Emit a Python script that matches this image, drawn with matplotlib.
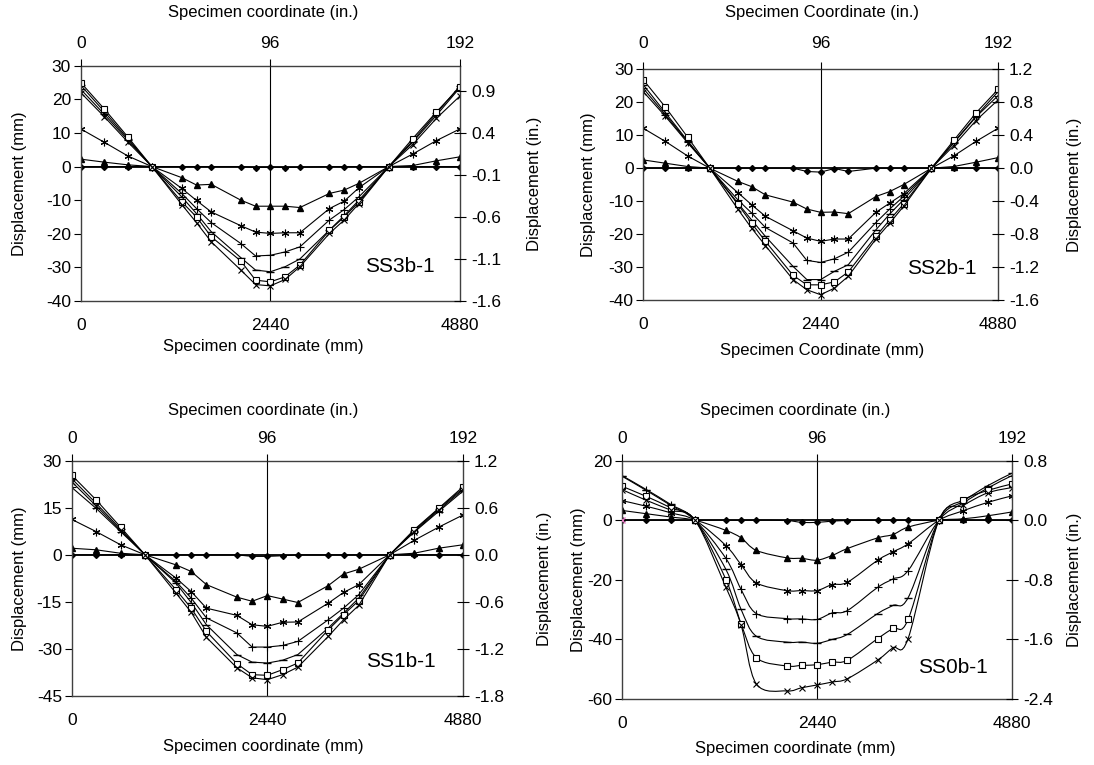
import numpy as np
import matplotlib
matplotlib.use('Agg')
import matplotlib.pyplot as plt
from matplotlib.path import Path
from matplotlib.patches import PathPatch

plt.rcParams['font.family'] = ['Liberation Sans', 'DejaVu Sans']
plt.rcParams['axes.unicode_minus'] = False

# ---------------- data ----------------
x_mm = [0, 305, 610, 915, 1300, 1490, 1680, 2060, 2250, 2440, 2630, 2820,
        3200, 3390, 3580, 3965, 4270, 4575, 4880]

# SS3b-1
ss3_diamond = [0, 0, 0, 0, 0, 0, 0, 0, -0.3, -0.2, -0.3, -0.2, 0, 0, 0, 0, 0, 0, 0]
ss3_triangle = [2.2, 1.3, 0.5, 0, -3.3, -5.5, -5.3, -10, -11.8, -11.8, -11.8, -12.2, -8, -7, -5, 0, 0.3, 1.7, 2.9]
ss3_star = [11.2, 7.2, 3.1, 0, -6.5, -10.1, -13.5, -17.6, -19.5, -19.9, -19.7, -19.7, -12.5, -10.3, -6.3, 0, 3.7, 7.7, 11.2]
ss3_plus = [23.0, 15.5, 7.8, 0, -8, -12.5, -16.7, -22.9, -26.6, -26.4, -25.4, -23.9, -15.9, -12.8, -9, 0, 7.2, 15.2, 23.5]
ss3_dash = [24.2, 16.3, 8.2, 0, -9, -14, -19.4, -27.1, -30.8, -31.3, -29.8, -27.5, -18.9, -14.6, -10, 0, 7.6, 15.8, 24.0]
ss3_square = [25.0, 17.1, 8.7, 0, -10.5, -15, -20.9, -28.1, -33.8, -34.3, -32.8, -29.3, -19, -15, -10.5, 0, 8.3, 16.2, 23.7]
ss3_x = [22.0, 14.8, 7.2, 0, -11.3, -16.7, -22.4, -30.8, -35.1, -35.5, -33.6, -29.8, -19.9, -15.9, -11, 0, 6.5, 14.3, 21.0]

# SS2b-1
ss2_diamond = [0, 0, 0, 0, 0, 0, 0, 0, -1.0, -1.2, -0.1, -1.0, 0, 0, 0, 0, 0, 0, 0]
ss2_triangle = [2.5, 1.5, 0.5, 0, -4, -5.6, -8.1, -10.3, -12.4, -13.4, -13.3, -13.8, -8.6, -7.1, -5, 0, 0.5, 1.8, 3.2]
ss2_star = [12.1, 8.1, 3.7, 0, -7.4, -11.1, -14.6, -19, -21.2, -22.2, -21.5, -21.5, -13.4, -10.6, -7.8, 0, 3.7, 8.1, 12.1]
ss2_plus = [24.2, 16.2, 8.0, 0, -9.6, -13.6, -18, -22.7, -28, -28.6, -27.5, -25.5, -16.5, -12.4, -8.6, 0, 7.6, 15.5, 22.0]
ss2_dash = [25.3, 16.8, 8.3, 0, -10.6, -15.7, -20.7, -29.8, -33.8, -33.8, -31.3, -29.3, -18.7, -13.9, -9.6, 0, 7.8, 15.7, 23.2]
ss2_square = [26.8, 18.5, 9.4, 0, -10.9, -16.7, -22.2, -32.5, -35.4, -35.4, -34.5, -31.5, -20.7, -15.7, -10.9, 0, 8.4, 16.7, 23.9]
ss2_x = [23.2, 15.7, 7.7, 0, -12.4, -18.2, -23.5, -33.8, -36.9, -38.4, -36.4, -32.8, -21.5, -16.7, -11.6, 0, 6.8, 14.4, 20.7]

# SS1b-1
ss1_diamond = [0, 0, 0, 0, 0, 0, 0, 0, -0.5, -0.5, -0.3, 0, 0, 0, 0, 0, 0, 0, 0]
ss1_triangle = [2.1, 1.6, 0.5, 0, -3.2, -5.3, -9.5, -13.5, -14.8, -13, -14.1, -15.2, -9.8, -6.1, -4.6, 0, 0.5, 2.1, 3.2]
ss1_star = [11.3, 7.4, 3.2, 0, -7.4, -11.7, -17, -19.3, -22.3, -22.8, -21.5, -21.4, -15.4, -12, -9.5, 0, 4.6, 8.8, 12.7]
ss1_plus = [21.5, 14.8, 7.4, 0, -8.5, -13.8, -20.1, -24.9, -29.4, -29.4, -28.9, -27.6, -20.7, -17, -12.7, 0, 7.2, 13.8, 20.3]
ss1_dash = [24.3, 16.4, 8.2, 0, -9, -15.2, -22.3, -31.8, -34.2, -34.5, -33.6, -31.8, -23.3, -18.6, -13.8, 0, 7.7, 14.6, 21.2]
ss1_square = [25.4, 17.5, 8.8, 0, -11.1, -17, -24.4, -34.7, -38.2, -38.4, -36.6, -34.5, -23.9, -19.1, -14.6, 0, 8.0, 14.8, 21.7]
ss1_x = [23.3, 15.6, 7.8, 0, -12.2, -18.3, -26.3, -36, -39.2, -39.8, -38.2, -35.8, -26, -20.7, -16.1, 0, 7.4, 14.2, 20.8]

# SS0b-1
ss0_diamond = [0, 0, 0, 0, 0, 0, 0, -0.1, -0.7, -0.7, -0.3, -0.1, 0, 0, 0, 0, 0, 0, 0]
ss0_triangle = [3.3, 2.2, 1.1, 0, -3.4, -5.9, -10.1, -12.6, -12.8, -13.4, -11.8, -9.5, -5.9, -4.8, -2.3, 0, 0.5, 1.5, 2.8]
ss0_star = [6.6, 4.7, 2.5, 0, -8.5, -14.9, -21, -23.6, -23.6, -23.6, -21.6, -20.8, -13.4, -10.6, -7.9, 0, 3.2, 6.0, 8.2]
ss0_plus = [14.8, 10.0, 5.0, 0, -12.8, -23.2, -31.3, -33, -33.1, -33.3, -31.1, -30.3, -22.5, -19.7, -16.9, 0, 5.8, 10.8, 15.0]
ss0_dash = [15.0, 10.3, 5.3, 0, -16.5, -29.9, -38.9, -40.9, -40.9, -41.3, -40, -38.3, -31.3, -28.6, -26, 0, 6.4, 11.6, 15.8]
ss0_square = [11.4, 8.0, 4.2, 0, -19.9, -34.7, -46.1, -48.9, -48.7, -48.5, -47.6, -47, -39.7, -36.3, -33.3, 0, 6.8, 10.0, 12.2]
ss0_x = [10.3, 6.7, 3.4, 0, -22.5, -35.2, -54.9, -57.3, -56.2, -55.3, -54.3, -53.2, -46.9, -42.8, -39.7, 0, 5.0, 9.2, 11.0]

names = ['SS3b-1', 'SS2b-1', 'SS1b-1', 'SS0b-1']
top_labels = ['Specimen coordinate (in.)', 'Specimen Coordinate (in.)',
              'Specimen coordinate (in.)', 'Specimen coordinate (in.)']
bottom_labels = ['Specimen coordinate (mm)', 'Specimen Coordinate (mm)',
                 'Specimen coordinate (mm)', 'Specimen coordinate (mm)']
x_ticks_mm = [0, 2440, 4880]
x_ticks_in = [0, 96, 192]
left_ticks = [[30, 20, 10, 0, -10, -20, -30, -40],
              [30, 20, 10, 0, -10, -20, -30, -40],
              [30, 15, 0, -15, -30, -45],
              [20, 0, -20, -40, -60]]
right_ticks = [[0.9, 0.4, -0.1, -0.6, -1.1, -1.6],
               [1.2, 0.8, 0.4, 0.0, -0.4, -0.8, -1.2, -1.6],
               [1.2, 0.6, 0.0, -0.6, -1.2, -1.8],
               [0.8, 0.0, -0.8, -1.6, -2.4]]
right_lims = [(-1.6, 1.2), (-1.6, 1.2), (-1.8, 1.2), (-2.4, 0.8)]

panel_series = [
    [ss3_diamond, ss3_triangle, ss3_star, ss3_plus, ss3_dash, ss3_square, ss3_x],
    [ss2_diamond, ss2_triangle, ss2_star, ss2_plus, ss2_dash, ss2_square, ss2_x],
    [ss1_diamond, ss1_triangle, ss1_star, ss1_plus, ss1_dash, ss1_square, ss1_x],
    [ss0_diamond, ss0_triangle, ss0_star, ss0_plus, ss0_dash, ss0_square, ss0_x],
]

# ---------------- layout ----------------
W, H = 1094, 765
fig = plt.figure(figsize=(W / 100, H / 100), dpi=100)

# (left, right, top, bottom) in pixels
boxes = [(80.7, 460, 65.7, 301), (643.3, 998, 69.3, 300),
         (71.7, 463, 460.7, 696), (622, 1012, 460.7, 699)]
label_pos = [
    # label centre x, top label y, bottom label y, left label x, right label x
    (263, 12, 347, 20, 535),
    (822, 12, 351, 588, 1075),
    (263, 410, 746, 20, 545),
    (795, 410, 748, 579, 1075),
]
top_pads = [5.5, 8.0, 5.5, 5.5]
ann_pos = [(4108, -29.6), (4110, -30.4), (4107, -33.9), (4142, -49.5)]
smooth = [False, False, False, True]

FS_TICK = 12.5
FS_LAB = 12
marker_styles = [
    dict(marker='D', ms=3.0, mfc='black', mec='black'),
    dict(marker='^', ms=4.5, mfc='black', mec='black'),
    dict(marker=(6, 2, 0), ms=5.5, mfc='black', mec='black', mew=0.8),
    dict(marker='+', ms=5.5, mfc='black', mec='black', mew=0.8),
    dict(marker='_', ms=5.5, mfc='black', mec='black', mew=1.0),
    dict(marker='s', ms=4.5, mfc='white', mec='black', mew=0.8),
    dict(marker='x', ms=4.5, mfc='black', mec='black', mew=0.8),
]


def smooth_patch(x, y):
    x = np.asarray(x, float)
    y = np.asarray(y, float)
    n = len(x)
    pts = np.column_stack([x, y])
    verts = [pts[0]]
    codes = [Path.MOVETO]
    for i in range(n - 1):
        p0 = pts[i - 1] if i > 0 else pts[i]
        p1 = pts[i]
        p2 = pts[i + 1]
        p3 = pts[i + 2] if i + 2 < n else pts[i + 1]
        c1 = p1 + (p2 - p0) / 6.0
        c2 = p2 - (p3 - p1) / 6.0
        verts += [c1, c2, p2]
        codes += [Path.CURVE4] * 3
    return PathPatch(Path(verts, codes), facecolor='none', edgecolor='black', lw=0.8)


for k in range(4):
    L, R, T, B = boxes[k]
    ax = fig.add_axes([L / W, 1 - B / H, (R - L) / W, (B - T) / H])
    lt = left_ticks[k]
    ax.set_xlim(0, 4880)
    ax.set_ylim(min(lt), max(lt))
    for s, st in zip(panel_series[k], marker_styles):
        if smooth[k]:
            ax.add_patch(smooth_patch(x_mm, s))
            ax.plot(x_mm, s, linestyle='none', **st)
        else:
            ax.plot(x_mm, s, color='black', lw=0.8, **st)
    if k == 3:
        ax.plot([x_mm[0]], [ss0_diamond[0]], linestyle='none', marker='x',
                ms=4.5, mec='#e377c2', mew=1.0, zorder=5)
    ax.axhline(0, color='black', lw=1.3, zorder=1)
    ax.axvline(2440, color='black', lw=0.8, zorder=1)
    for sp in ax.spines.values():
        sp.set_color('#404040')
        sp.set_linewidth(1.0)
    ax.set_yticks(lt)
    ax.set_yticklabels([str(v) for v in lt])
    ax.set_xticks(x_ticks_mm)
    ax.set_xticklabels([str(v) for v in x_ticks_mm])
    ax.tick_params(axis='y', direction='out', length=5, width=0.8, pad=2, labelsize=FS_TICK)
    ax.tick_params(axis='x', direction='out', length=0, pad=12, labelsize=FS_TICK)
    ax.text(*ann_pos[k], names[k], fontsize=15, ha='center', va='center')

    axr = ax.twinx()
    axr.set_ylim(*right_lims[k])
    axr.set_yticks(right_ticks[k])
    axr.set_yticklabels(['%.1f' % v for v in right_ticks[k]])
    axr.tick_params(axis='y', direction='inout', length=8, width=0.8, pad=4, labelsize=FS_TICK)
    for sp in axr.spines.values():
        sp.set_visible(False)

    axt = ax.twiny()
    axt.set_xlim(0, 4880 / 25.4)
    axt.set_xticks(x_ticks_in)
    axt.set_xticklabels([str(v) for v in x_ticks_in])
    axt.tick_params(axis='x', direction='out', length=5, width=0.8, pad=top_pads[k],
                    labelsize=FS_TICK)
    for sp in axt.spines.values():
        sp.set_visible(False)

    cx, tl, bl, ll, rl = label_pos[k]
    cy = (T + B) / 2
    fig.text(cx / W, 1 - tl / H, top_labels[k], fontsize=FS_LAB, ha='center', va='center')
    fig.text(cx / W, 1 - bl / H, bottom_labels[k], fontsize=FS_LAB, ha='center', va='center')
    fig.text(ll / W, 1 - cy / H, 'Displacement (mm)', fontsize=FS_LAB, ha='center',
             va='center', rotation=90)
    fig.text(rl / W, 1 - cy / H, 'Displacement (in.)', fontsize=FS_LAB, ha='center',
             va='center', rotation=90)

fig.savefig('out.png', dpi=100)
